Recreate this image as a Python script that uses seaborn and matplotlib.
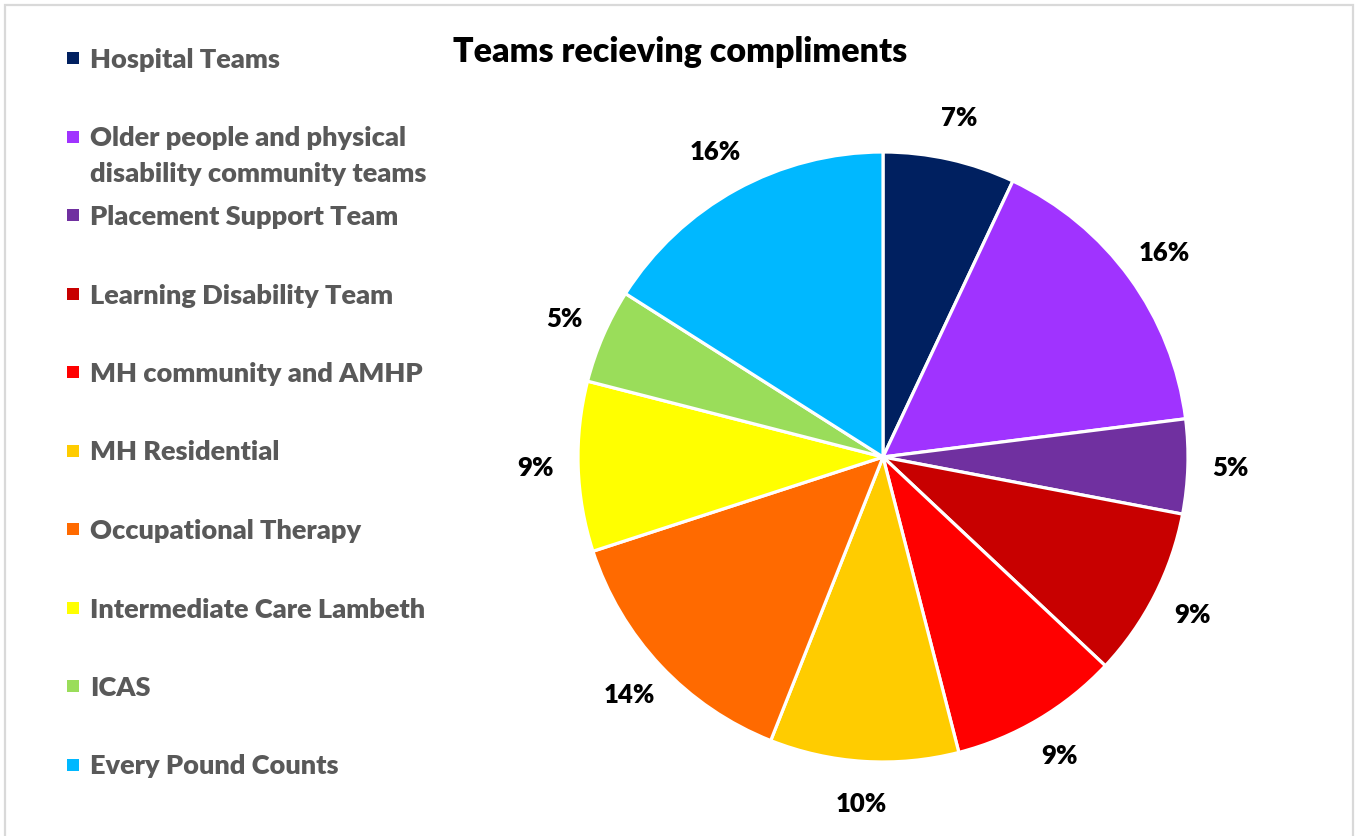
import matplotlib
matplotlib.use("Agg")
import matplotlib.pyplot as plt
from matplotlib.patches import Rectangle
import seaborn as sns

# Share of compliments received by each team (percent)
teams = [
    "Hospital Teams",
    "Older people and physical\ndisability community teams",
    "Placement Support Team",
    "Learning Disability Team",
    "MH community and AMHP",
    "MH Residential",
    "Occupational Therapy",
    "Intermediate Care Lambeth",
    "ICAS",
    "Every Pound Counts",
]
shares = [7, 16, 5, 9, 9, 10, 14, 9, 5, 16]
colors = [
    "#002060", "#A033FF", "#7030A0", "#C80000", "#FF0000",
    "#FFCC00", "#FF6A00", "#FFFF00", "#9ADD5A", "#00B8FF",
]
title = "Teams recieving compliments"

sns.set_theme(style="white")
plt.rcParams["font.family"] = ["Lato", "DejaVu Sans"]

W, H = 1355, 836
fig = plt.figure(figsize=(W / 100, H / 100), dpi=100)
fig.patch.set_facecolor("white")

# light frame around the chart area
fig.patches.append(Rectangle((5 / W, -0.01), (1353 - 5) / W, (H - 5) / H + 0.01,
                             transform=fig.transFigure, fill=False,
                             edgecolor="#D9D9D9", linewidth=1.6))

# pie axes: centre (883, 457) px, radius 305 px
cx, cy, r = 883, 457, 305
ax = fig.add_axes([(cx - r) / W, (H - cy - r) / H, 2 * r / W, 2 * r / H])
wedges, _, autotexts = ax.pie(
    shares, colors=colors, startangle=90, counterclock=False, radius=1.0,
    autopct="%.0f%%", pctdistance=1.14,
    wedgeprops=dict(edgecolor="white", linewidth=2.3),
    textprops=dict(fontsize=18.5, fontweight="heavy", color="black"),
)
ax.set_xlim(-1, 1)
ax.set_ylim(-1, 1)
ax.set_aspect("equal")
ax.axis("off")

fig.text(680 / W, 1 - 52 / H, title, ha="center", va="center",
         fontsize=24.5, fontweight="heavy", color="black")

# legend on the left, one row per team
y0, step = 58, 78.5
line_gap = 35
for i, (label, col) in enumerate(zip(teams, colors)):
    y = y0 + i * step
    fig.patches.append(Rectangle(((73 - 6) / W, 1 - (y + 6) / H), 12 / W, 12 / H,
                                 transform=fig.transFigure, facecolor=col,
                                 edgecolor="none"))
    lines = label.split("\n")
    for j, line in enumerate(lines):
        fig.text(90 / W, 1 - (y + 2 + j * line_gap) / H, line, ha="left",
                 va="center", fontsize=19.5, fontweight="heavy", color="#595959")

fig.savefig("out.png", dpi=100, facecolor="white")
